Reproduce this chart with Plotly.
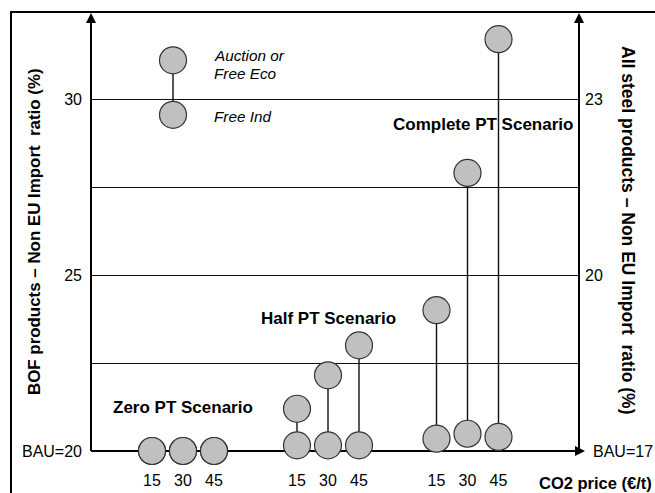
import plotly.graph_objects as go

# ---------------- data ----------------
scenarios = ["Zero PT Scenario", "Half PT Scenario", "Complete PT Scenario"]
co2_prices = ["15", "30", "45"]
free_ind = [[20.0, 20.0, 20.0], [20.16, 20.16, 20.16], [20.35, 20.49, 20.40]]
auction_free_eco = [[20.0, 20.0, 20.0], [21.2, 22.15, 23.0], [24.0, 27.9, 31.7]]
key_values = [29.55, 31.1]          # illustration: Free Ind, Auction or Free Eco
left_ticks = [20, 22.5, 25, 27.5, 30]
left_ticktext = ["BAU=20", "", "25", "", "30"]
right_ticks = [20, 23]
right_ticktext = ["20", "23"]

# ---------------- layout helpers ----------------
W, H = 655, 493
L, R, T, B = 91, 579, 14, 451          # plot area in px
ymin, ymax = 20, 20 + (B - T) / 35.2
y2min, y2max = 17, 17 + (ymax - ymin) * 0.6

def px(x):
    return (x - L) / (R - L)

def py(y):
    return (B - y) / (B - T)

group_centers = [183, 328, 467.5]
offsets = [-31, 0, 31]
key_x = 173

FONT = "Arial, Liberation Sans, sans-serif"
fill = "#C0C0C0"
edge = "#333333"

xs, lo, hi = [], [], []
for g, c in enumerate(group_centers):
    for k, o in enumerate(offsets):
        xs.append(c + o)
        lo.append(free_ind[g][k])
        hi.append(auction_free_eco[g][k])

fig = go.Figure()

# stems
sx, sy = [], []
for x, a, b in zip(xs, lo, hi):
    if b > a:
        sx += [x, x, None]
        sy += [a, b, None]
sx += [key_x, key_x, None]
sy += [key_values[0], key_values[1], None]
fig.add_trace(go.Scatter(x=sx, y=sy, mode="lines", line=dict(color="#111", width=1.4),
                         hoverinfo="skip", showlegend=False, cliponaxis=False))

mk = dict(size=27, color=fill, line=dict(color=edge, width=1.2))
fig.add_trace(go.Scatter(x=xs, y=hi, mode="markers", marker=mk, name="Auction or Free Eco",
                         showlegend=False, cliponaxis=False))
fig.add_trace(go.Scatter(x=xs, y=lo, mode="markers", marker=mk, name="Free Ind",
                         showlegend=False, cliponaxis=False))
fig.add_trace(go.Scatter(x=[key_x, key_x], y=key_values, mode="markers", marker=mk,
                         showlegend=False, cliponaxis=False))

# invisible trace for right axis
fig.add_trace(go.Scatter(x=[L], y=[y2min], yaxis="y2", mode="markers",
                         marker=dict(opacity=0), showlegend=False, hoverinfo="skip"))

ann = []

def text_ann(x, y, text, size, xanchor="center", angle=0):
    ann.append(dict(x=px(x), y=py(y), xref="paper", yref="paper", text=text,
                    xanchor=xanchor, yanchor="middle", textangle=angle, showarrow=False,
                    font=dict(size=size, color="black", family=FONT)))

# scenario labels
scen_pos = [(183, 407), (328.5, 318), (482.5, 125)]
for s, (x, y) in zip(scenarios, scen_pos):
    text_ann(x, y, "<b>%s</b>" % s, 17)
# key labels
for txt, y in [("Auction or", 55), ("Free Eco", 73), ("Free Ind", 116)]:
    text_ann(212, y, "<i>%s</i>" % txt, 15.3, xanchor="left")
# axis titles
text_ann(35, 232, "<b>BOF products – Non EU Import  ratio (%)</b>", 16.9, angle=-90)
text_ann(628, 230, "<b>All steel products – Non EU Import  ratio (%)</b>", 17.5, angle=90)
text_ann(654, 483, "<b>CO2 price (€/t)</b>", 16.5, xanchor="right")
text_ann(591, 451, "BAU=17", 16, xanchor="left")

# arrowheads
for (x, y, ax, ay) in [(L, 13, 0, 25), (R, 13, 0, 25), (585, B, -25, 0)]:
    ann.append(dict(x=px(x), y=py(y), ax=ax, ay=ay, xref="paper", yref="paper",
                    axref="pixel", ayref="pixel", showarrow=True, arrowhead=2, arrowsize=1,
                    arrowwidth=2, arrowcolor="black", text=""))

shapes = [
    dict(type="rect", xref="paper", yref="paper", x0=px(11), x1=px(700), y0=py(540), y1=py(12),
         line=dict(color="black", width=2), layer="below"),
    dict(type="line", xref="paper", yref="paper", x0=px(L), x1=px(L), y0=py(B), y1=py(20),
         line=dict(color="black", width=2)),
    dict(type="line", xref="paper", yref="paper", x0=px(R), x1=px(R), y0=py(B), y1=py(20),
         line=dict(color="black", width=2)),
    dict(type="line", xref="paper", yref="paper", x0=px(L), x1=px(578), y0=py(B), y1=py(B),
         line=dict(color="black", width=2), layer="below"),
]

fig.update_layout(
    width=W, height=H,
    margin=dict(l=L, r=W - R, t=T, b=H - B, autoexpand=False),
    paper_bgcolor="white", plot_bgcolor="white",
    font=dict(family=FONT, color="black", size=16),
    xaxis=dict(range=[L, R], tickvals=xs, ticktext=co2_prices * 3, showgrid=False,
               zeroline=False, showline=False, ticks="", ticklabelstandoff=18,
               automargin=False, tickfont=dict(size=16, color="black")),
    yaxis=dict(range=[ymin, ymax], tickvals=left_ticks, ticktext=left_ticktext,
               showgrid=True, gridcolor="#111111", gridwidth=1.4, zeroline=False,
               showline=False, ticks="", ticklabelstandoff=8, automargin=False,
               tickfont=dict(size=16, color="black")),
    yaxis2=dict(range=[y2min, y2max], overlaying="y", side="right", tickvals=right_ticks,
                ticktext=right_ticktext, showgrid=False, zeroline=False, showline=False,
                ticks="", ticklabelstandoff=5, automargin=False,
                tickfont=dict(size=16, color="black")),
    annotations=ann, shapes=shapes,
)

fig.write_html("out.html", config={"displayModeBar": False},
               post_script="document.body.style.margin='0';document.body.style.padding='0';")
